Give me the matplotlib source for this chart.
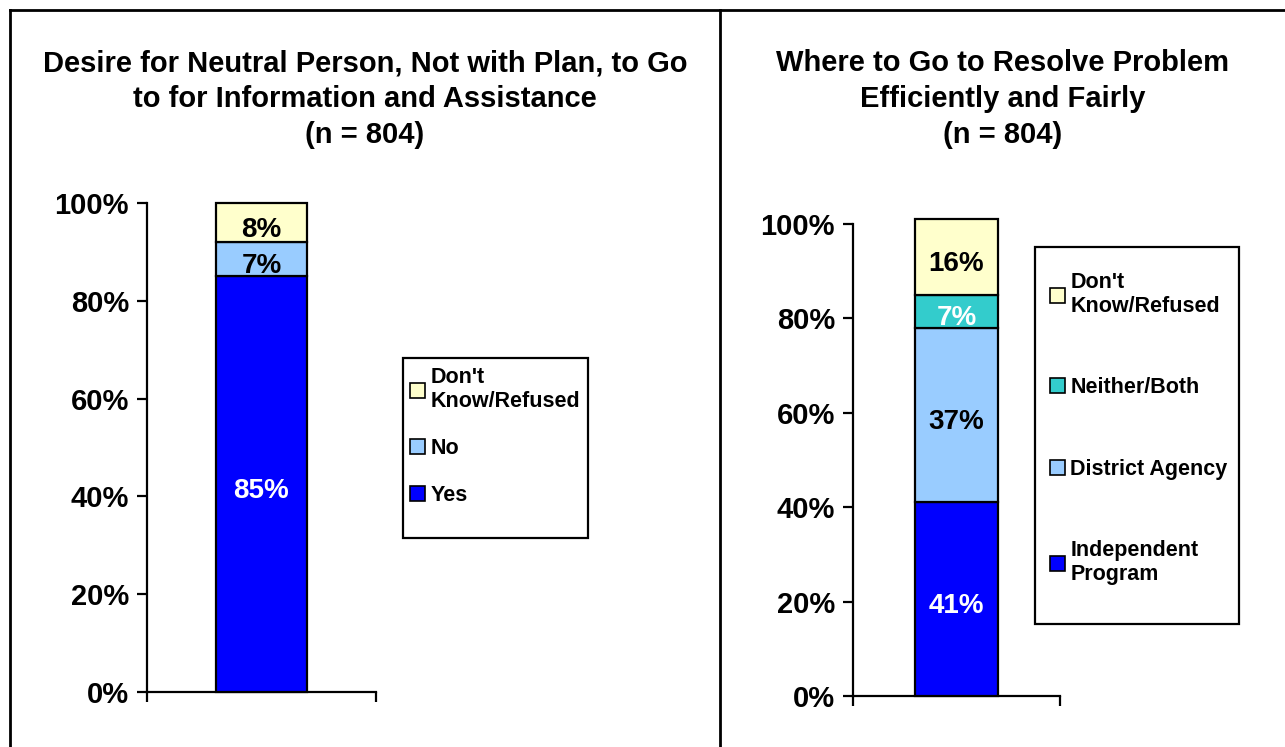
import matplotlib.pyplot as plt
from matplotlib.patches import Patch, Rectangle
from matplotlib.lines import Line2D

plt.rcParams['font.family'] = ['Liberation Sans', 'DejaVu Sans']
plt.rcParams['font.weight'] = 'bold'

W, H = 1285, 747

# left chart data
left_title = "Desire for Neutral Person, Not with Plan, to Go\nto for Information and Assistance\n(n = 804)"
left_labels = ["Yes", "No", "Don't\nKnow/Refused"]
left_values = [85, 7, 8]
left_colors = ["#0000FF", "#99CCFF", "#FFFFCC"]
left_text_colors = ["white", "black", "black"]

# right chart data
right_title = "Where to Go to Resolve Problem\nEfficiently and Fairly\n(n = 804)"
right_labels = ["Independent\nProgram", "District Agency", "Neither/Both", "Don't\nKnow/Refused"]
right_values = [41, 37, 7, 16]
right_colors = ["#0000FF", "#99CCFF", "#33CCCC", "#FFFFCC"]
right_text_colors = ["white", "black", "white", "black"]

yticks = [0, 20, 40, 60, 80, 100]
ytick_labels = ["0%", "20%", "40%", "60%", "80%", "100%"]

fig = plt.figure(figsize=(W / 100, H / 100), dpi=100)


def px_rect(x0, y0, x1, y1):
    # pixel box (top-left origin) -> figure fraction [l, b, w, h]
    return [x0 / W, 1 - y1 / H, (x1 - x0) / W, (y1 - y0) / H]


def stacked(ax, values, colors, text_colors):
    bottom = 0
    for v, c, tc in zip(values, colors, text_colors):
        ax.bar(0, v, width=0.4, bottom=bottom, color=c, edgecolor="black",
               linewidth=1.6, clip_on=False, zorder=3)
        ax.annotate(f"{v}%", (0, bottom + v / 2), xytext=(0, -3),
                    textcoords="offset points", ha="center", va="center_baseline",
                    color=tc, fontsize=20, fontweight="bold", zorder=4)
        bottom += v
    ax.set_xlim(-0.5, 0.5)
    ax.set_ylim(0, 100)
    ax.set_yticks(yticks)
    ax.set_yticklabels(ytick_labels, fontsize=21, fontweight="bold")
    ax.set_xticks([-0.5, 0.5])
    ax.set_xticklabels([])
    ax.tick_params(axis="both", direction="out", length=7, width=1.6, pad=6)
    ax.tick_params(axis="x", pad=2)
    for s in ["top", "right"]:
        ax.spines[s].set_visible(False)
    for s in ["left", "bottom"]:
        ax.spines[s].set_linewidth(1.6)


def legend_box(ax, labels, colors, box, anchor, spacing):
    x0, y0, x1, y1 = box
    fig.patches.append(Rectangle((x0 / W, 1 - y1 / H), (x1 - x0) / W, (y1 - y0) / H,
                                 transform=fig.transFigure, fill=False,
                                 edgecolor="black", linewidth=1.6))
    handles = [Patch(facecolor=c, edgecolor="black", linewidth=1.2)
               for c in colors[::-1]]
    ax.legend(handles, labels[::-1], loc="upper left",
              bbox_to_anchor=(anchor[0] / W, 1 - anchor[1] / H),
              bbox_transform=fig.transFigure, frameon=False,
              prop={"weight": "bold", "size": 15.5}, handlelength=0.7,
              handleheight=0.7, handletextpad=0.25, labelspacing=spacing,
              borderpad=0, borderaxespad=0)


ax1 = fig.add_axes(px_rect(147, 203, 376, 692))
stacked(ax1, left_values, left_colors, left_text_colors)
legend_box(ax1, left_labels, left_colors, (403, 358, 588, 538), (410, 367), 1.2)

ax2 = fig.add_axes(px_rect(853, 224, 1060, 696))
stacked(ax2, right_values, right_colors, right_text_colors)
legend_box(ax2, right_labels, right_colors, (1035, 247, 1239, 624), (1050, 272), 2.8)

fig.text(365 / W, 1 - 49 / H, left_title, ha="center", va="top",
         fontsize=21, fontweight="bold", linespacing=1.37)
fig.text(1003 / W, 1 - 49 / H, right_title, ha="center", va="top",
         fontsize=21, fontweight="bold", linespacing=1.37)

# panel borders
for xs, ys in [([10, 10], [10, H]), ([10, W], [10, 10]), ([720, 720], [10, H])]:
    fig.add_artist(Line2D([x / W for x in xs], [1 - y / H for y in ys],
                          transform=fig.transFigure, color="black", linewidth=2))

fig.savefig("out.png", dpi=100)
